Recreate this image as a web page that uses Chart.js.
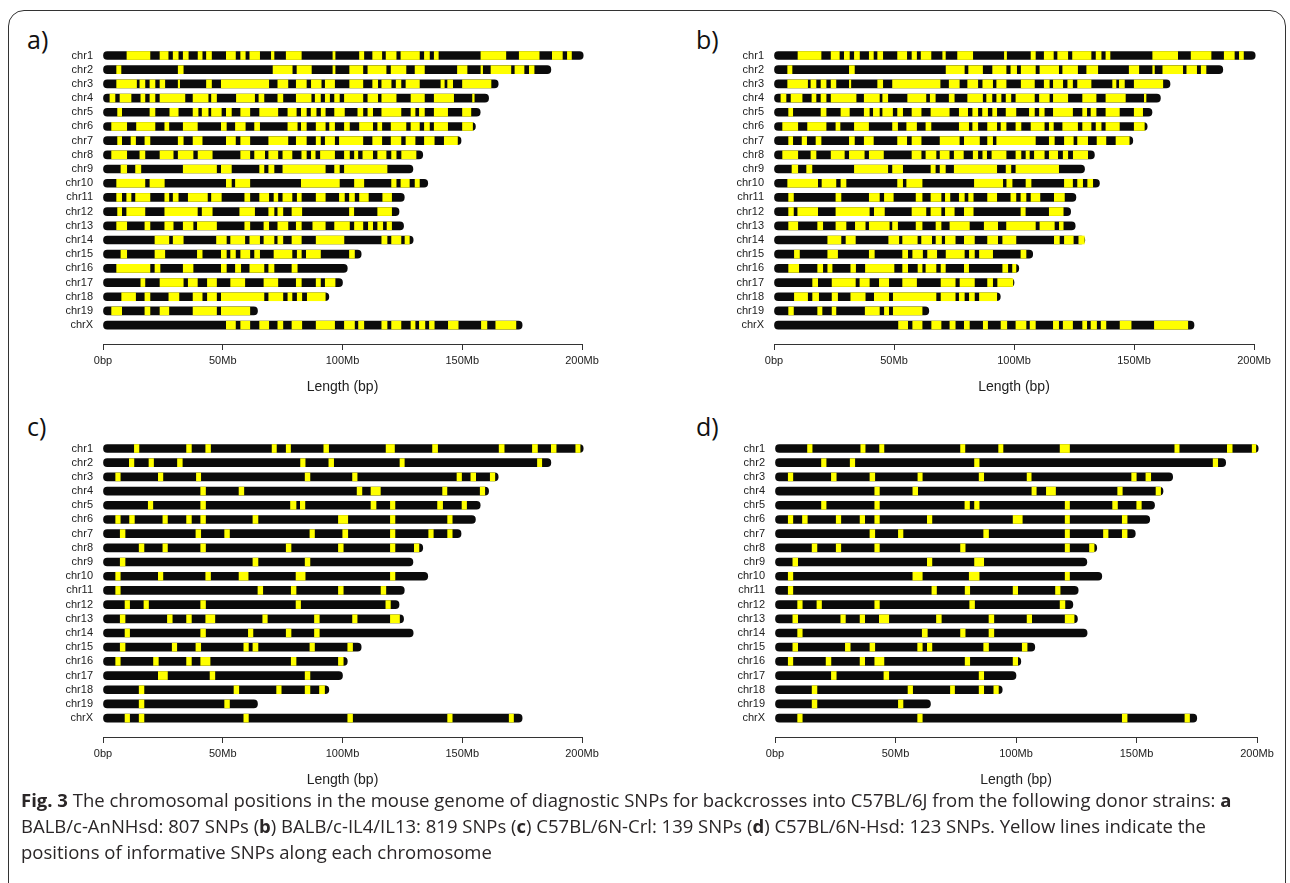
<!DOCTYPE html>
<html lang="en">
<head>
    <meta charset="UTF-8">
    <title>Fig. 3 Diagnostic SNP positions</title>
    <script src="https://cdn.jsdelivr.net/npm/chart.js"></script>
    <style>
        body {
            margin: 0;
            width: 1290px;
            height: 883px;
            overflow: hidden;
            background: #fff;
            position: relative;
            font-family: "Open Sans", sans-serif;
        }
        .frame {
            position: absolute;
            left: 8px;
            top: 10px;
            width: 1276px;
            height: 920px;
            border: 1.5px solid #333;
            border-radius: 16px;
        }
        .panel-label {
            position: absolute;
            font-size: 25px;
            color: #111;
            line-height: 1;
        }
        canvas {
            position: absolute;
        }
        .caption {
            position: absolute;
            left: 21px;
            top: 787px;
            font-size: 18.5px;
            line-height: 26px;
            color: #2a2627;
            white-space: nowrap;
        }
        .caption b {
            font-weight: 700;
        }
    </style>
</head>
<body>
    <div class="frame"></div>

    <div class="panel-label" style="left:27px; top:27px;">a)</div>
    <div class="panel-label" style="left:696px; top:27px;">b)</div>
    <div class="panel-label" style="left:27px; top:414px;">c)</div>
    <div class="panel-label" style="left:696px; top:414px;">d)</div>

    <canvas id="chartA" width="640" height="400" style="left:0px; top:0px;"></canvas>
    <canvas id="chartB" width="640" height="400" style="left:671px; top:0px;"></canvas>
    <canvas id="chartC" width="640" height="400" style="left:0px; top:393px;"></canvas>
    <canvas id="chartD" width="640" height="400" style="left:672px; top:393px;"></canvas>

    <div class="caption">
        <b>Fig. 3</b> The chromosomal positions in the mouse genome of diagnostic SNPs for backcrosses into C57BL/6J from the following donor strains: <b>a</b><br>
        BALB/c-AnNHsd: 807 SNPs (<b>b</b>) BALB/c-IL4/IL13: 819 SNPs (<b>c</b>) C57BL/6N-Crl: 139 SNPs (<b>d</b>) C57BL/6N-Hsd: 123 SNPs. Yellow lines indicate the<br>
        positions of informative SNPs along each chromosome
    </div>

    <script>
        // Chromosomes and their drawn lengths (Mb)
        const chrNames = ['chr1','chr2','chr3','chr4','chr5','chr6','chr7','chr8','chr9','chr10',
                          'chr11','chr12','chr13','chr14','chr15','chr16','chr17','chr18','chr19','chrX'];
        const chrLengths = [200.5, 187, 165, 161, 157.5, 155.5, 149.5, 133.5, 129.4, 135.6,
                            125.8, 123.6, 125.5, 129.5, 107.8, 102, 100, 94.3, 64.5, 175];

        // x axis ticks
        const xTickValues = [0, 50, 100, 150, 200];
        const xTickLabels = ['0bp', '50Mb', '100Mb', '150Mb', '200Mb'];

        // Yellow (informative SNP) regions per chromosome, in Mb
        // a) BALB/c-AnNHsd
        const yellowA = [
            [[10,19.6],[23.8,27.2],[29.3,31.4],[33.5,35.6],[39.7,41.4],[43.2,45.3],[51.5,55.3],[57.5,59.4],[61.3,65.4],[70.3,71.4],[76.5,82.8],[96,96.9],[107.1,108.9],[112.6,116.4],[118.2,122.4],[124.4,132.1],[134.2,136.3],[138.3,140],[157.8,168.2],[173.8,182.1],[187.6,191.8],[193.9,195.6]],
            [[5.7,7.5],[31.4,33.5],[71,79],[81,87],[96,96.9],[103,108.5],[110.6,118.2],[120.3,126.5],[130.3,134.2],[148,152],[157.8,158.5],[162,170.3],[172,175.8],[178,180]],
            [[5.7,14],[15.4,17.5],[19.6,21.7],[23.8,25.8],[31.4,32],[43.2,45.3],[49.4,69.2],[73,77.2],[80.7,84.9],[87,91.1],[92.8,96.7],[103,108.5],[112.6,114.7],[116.4,120.3],[122.4,124.4],[126.5,132.1],[141.1,142.5],[143.9,146],[150.1,162]],
            [[2.9,5],[7.1,11.7],[15.8,17.5],[19.6,21.7],[23.8,34.2],[37.6,43.9],[45.3,47.4],[55.7,63.3],[65.1,67.2],[73,75.1],[80.7,86.9],[88.6,90.8],[92.8,94.6],[96.7,98.7],[100.8,108.5],[110.6,114.7],[116.4,122.4],[128.6,134.2],[138.3,146.4],[154.3,155]],
            [[6.1,7.8],[19.6,21.7],[27.9,31.4],[37.6,39.7],[41.4,43.9],[45.3,49.4],[51.5,53.6],[57.5,61.3],[65.4,73],[77.2,80.7],[82.8,84.9],[86.9,89],[91.1,92.8],[96.7,100.8],[106.4,108.5],[110.6,112.6],[116.4,124.4],[128.6,130.3],[132.1,134.2],[138.3,143.9],[150.1,153.6]],
            [[3.6,9.9],[14,21.7],[25.8,27.5],[33.5,39.4],[49.4,51.5],[55.3,59.4],[63.3,65.4],[77.2,81.1],[82.8,84.9],[89,92.8],[94.6,96.7],[100.8,102.9],[107.1,112.6],[114.7,116.4],[120.3,126.5],[128.6,132.1],[134.2,136.3],[138.3,143.9],[150.1,154.3]],
            [[6.1,7.8],[11.7,13.6],[17.5,19.6],[31.4,33.5],[37.6,41.4],[51.5,55.3],[57.5,61.3],[69.2,77.2],[80.7,84.9],[89,90.8],[92.8,96.7],[98.7,108.5],[112.6,116.4],[120.3,124.4],[126.5,130.3],[134.2,138.3],[142.5,148]],
            [[3.6,9.9],[15.4,17.5],[23.8,29.3],[31.4,37.6],[39.7,45.6],[57.5,61.3],[63.3,67.5],[69.2,73],[75.1,78.9],[83,84.9],[87,88.6],[90.8,96.7],[100.8,102.9],[105,106.4],[108.5,112.6],[114.7,118.2],[120.5,122.4],[124.7,130.7]],
            [[7.5,9.9],[13.6,15.8],[33.5,47.4],[49.4,53.6],[65.4,67.2],[69.2,71.4],[75.1,92.8],[96.7,98.7],[100.8,118.6]],
            [[5.7,17.5],[19.6,25.6],[51.5,53.6],[55.3,61.3],[82.8,98.7],[105,108.9],[120.5,122.4],[124.4,127.9],[130.3,132.1]],
            [[5.7,7.8],[9.9,11.7],[13.6,19.6],[25.8,27.5],[29.3,31.4],[35.6,43.6],[45.3,49.4],[59.2,61.3],[65.4,69.2],[71.4,73],[75.1,78.9],[81.1,82.8],[89,92.8],[98.7,100.8],[102.9,105],[107.1,110.8],[116.8,120.5]],
            [[6.1,7.8],[9.9,17.5],[25.8,39.4],[41.4,45.6],[57.1,63.3],[69.2,71.4],[73,75.1],[78.9,83],[102.9,104.7],[114.7,120.5]],
            [[5.7,9.9],[17.5,19.6],[25.8,29.3],[33.5,37.6],[39.4,47.4],[59.2,61.3],[67.2,69.2],[73,77.2],[80.7,82.8],[87.6,92.8],[96.7,102.9],[105,108.5],[110.8,112.6],[114.7,116.8],[118.6,120.5]],
            [[21.7,27.5],[29.3,33.5],[47.4,51.5],[53.3,59.2],[61.3,65.4],[67.2,71.4],[73,75.1],[78.9,82.8],[89,100.6],[116.4,118.6],[120.5,124.4],[126.1,127.9]],
            [[7.5,9.9],[21.7,25.8],[39.4,41.4],[49.4,51.5],[53.3,55.3],[57.5,61.3],[63.3,65.4],[71.4,78.9],[81.1,82.8],[84.9,90.8],[102.9,105]],
            [[5.7,19.6],[21.7,23.8],[33.5,37.6],[49.4,51.5],[55.3,57.5],[61.3,67.2],[69.2,71.4],[78.9,81.1]],
            [[15.8,17.5],[23.8,33.5],[35.6,39.4],[43.6,47.4],[53.3,59.2],[67.2,73],[80.7,82.8],[89,90.8],[92.8,96.9]],
            [[7.8,13.6],[17.5,19.6],[27.5,31.7],[37.6,41.4],[43.6,47.4],[49.4,67.2],[69.2,75.1],[77.2,78.9],[81.1,83],[85.3,92.8]],
            [[3.6,7.8],[17.5,19.6],[23.8,27.5],[37.6,47.4],[49.4,61.3]],
            [[51.5,55.3],[57.5,61.3],[65.4,69.2],[73,75.1],[78.9,83],[89,96.7],[100.8,105],[106.7,108.9],[116.4,118.6],[120.5,124.4],[128.6,130.3],[132.1,134.4],[136.3,138.3],[144.2,148.3],[158,160.3],[164,172.4]]
        ];

        // b) BALB/c-IL4/IL13
        const yellowB = [
            yellowA[0],
            [[5.7,7.5],[31.4,33.5],[71.7,79.3],[81.1,86.9],[91.1,96.7],[98.7,101.1],[103,108.9],[110.8,118.6],[120.3,126.5],[130.3,134.9],[148,152],[157.8,158.5],[162,170.3],[172,176.1],[178,180]],
            yellowA[2],
            yellowA[3],
            yellowA[4],
            yellowA[5],
            [[6.1,7.8],[11.7,13.6],[17.5,19.6],[31.4,33.5],[37.6,41.4],[51.5,55.3],[57.5,61.3],[69.2,77.2],[79.3,85.6],[89,91.1],[92.8,108.9],[114.7,116.8],[121,124.7],[126.5,130.7],[134.6,138.3],[142.5,148]],
            yellowA[7],
            yellowA[8],
            [[5.7,18.2],[20,25.8],[27.9,30],[51.5,53.6],[55.3,61.7],[83.5,95.3],[97,99.2],[105,107.1],[121,124.4],[126.5,128.6],[130.7,132.8]],
            [[6.1,8.1],[25.8,27.9],[39.7,43.9],[46,49.7],[59.2,61.7],[65.4,69.6],[71.4,73.3],[77.2,79.3],[81.1,83],[89,92.8],[98.7,100.8],[102.9,105],[107.1,110.8],[116.8,121]],
            [[6.1,8.1],[9.9,18.2],[25.8,39.7],[41.8,46],[57.5,63.3],[65.4,69.6],[71.4,75.1],[79.3,83],[102.9,104.7],[114.7,120.5]],
            [[6.1,9.9],[18.2,20.3],[25.8,30],[33.9,38],[39.7,48],[49.4,51.5],[59.2,61.7],[67.5,69.6],[73.3,81.4],[87.6,93.2],[96.9,108.9],[110.8,116.8],[118.9,120.5]],
            [[22.4,27.9],[30,33.9],[47.8,52],[53.6,59.7],[61.5,65.7],[67.5,69.8],[71.4,75.5],[79.3,83.5],[89,93.2],[95.3,100.8],[116.8,118.9],[121,124.7],[127,129.3]],
            [[8.5,10.6],[22.4,26.5],[39.7,41.8],[53.6,55.7],[57.8,61.9],[64,67.8],[71.7,79.3],[81.4,83.5],[85.6,91.1],[102.9,105]],
            [[6.1,10.3],[18.2,20.3],[22.4,24.2],[32,34],[38.1,50],[53.6,55.7],[60,61.7],[63.3,67.5],[69.6,71.4],[79.3,81.1],[95.3,97.4],[99.4,100.8]],
            [[16.1,18.2],[24.2,33.9],[35.8,39.7],[43.9,47.8],[53.6,59.4],[69.6,75.5],[77.5,83.5],[89,91.1],[93.2,99.5]],
            [[8.5,14],[16.1,18.6],[24.2,26.5],[32,38],[41.8,47.8],[49.7,67.5],[69.6,75.5],[77.2,79.3],[81.4,83.5],[85.6,92.8]],
            [[6.1,8.1],[18.2,20],[24.2,25.8],[38,43.9],[46,47.8],[49.7,61.7]],
            [[51.9,55.7],[57.8,61.7],[65.7,69.6],[73.3,75.5],[79.3,81.4],[87.2,89],[94.6,97],[100.8,105],[106.7,108.9],[116.4,118.6],[120.5,124.4],[128.6,130.3],[132.1,134.4],[136.3,138.3],[144.2,148.8],[158.5,172.4]]
        ];

        // c) C57BL/6N-Crl
        const yellowC = [
            [[13.1,15],[34.9,36.9],[42.9,44.9],[70.6,72.4],[76.5,78.3],[92.2,94.2],[118.2,121.7],[137.6,139.7],[165.4,167.5],[179.3,181.4],[187.2,189.2],[197.4,199.2]],
            [[11,12.9],[19.2,21.1],[31.1,33.1],[82.5,84.4],[94.3,96.3],[124,125.8],[181.4,183.2]],
            [[5.3,7.2],[23.1,25],[39,40.8],[84.4,86.4],[104.2,106.1],[147.8,149.7],[153.6,155.6],[161.7,163.6]],
            [[40.8,42.8],[56.8,58.8],[106.1,108.1],[111.9,115.8],[141.8,143.6],[157.5,159.4]],
            [[18.9,20.8],[40.8,42.8],[78.3,80.6],[82.4,84.3],[111.9,114],[120,121.9],[139.7,141.8],[149.9,151.8]],
            [[5.3,7.2],[11.1,13.1],[25,26.9],[34.9,36.9],[40.8,42.8],[62.6,64.7],[98.3,102.2],[120,121.9],[143.9,145.8]],
            [[7.2,9.2],[38.8,40.8],[50.8,52.8],[86.4,88.3],[100.1,102.2],[120,121.9],[136,137.9],[143.9,145.8]],
            [[15.1,17.1],[25,26.9],[40.8,42.8],[76.5,78.5],[98.3,100.3],[120,121.9],[130,131.9]],
            [[7.2,9.2],[62.6,64.7],[84.4,86.4]],
            [[5.3,7.2],[23.1,25],[42.9,44.9],[56.8,60.6],[80.6,84.4],[120,121.9]],
            [[5.3,7.2],[64.7,66.7],[78.6,80.6],[98.3,100.3],[116.1,118.1]],
            [[9.2,11.1],[17.1,19],[40.8,42.8],[80.6,82.5],[118.1,120]],
            [[7.2,9.2],[26.9,28.9],[34.9,36.9],[42.9,46.7],[66.7,68.6],[88.3,90.3],[104.2,106.1],[120,123.8]],
            [[9.2,11.1],[40.8,42.8],[60.7,62.6],[76.5,78.5],[88.3,90.3]],
            [[7.2,9.2],[28.9,30.8],[38.8,40.8],[58.8,60.7],[62.6,64.7],[86.4,88.3],[102.2,104.2]],
            [[5.3,7.2],[21.1,23.1],[34.9,36.9],[40.8,44.7],[78.6,80.6],[98.3,100.3]],
            [[23.1,26.9],[44.7,46.7],[84.4,86.4]],
            [[15.1,17.1],[54.7,56.7],[72.5,74.4],[84.4,86.4],[90.4,92.5]],
            [[15.1,17.1],[50.8,52.8]],
            [[9.2,11.1],[15.1,17.1],[58.8,60.7],[102.2,104.2],[143.9,145.8],[169.6,171.4]]
        ];

        // d) C57BL/6N-Hsd
        const yellowD = [
            [[13.5,15.4],[35.6,37.4],[43.4,45.2],[77,78.8],[92.8,94.6],[118.3,122.2],[165.9,167.7],[187.7,189.7],[198,199.5]],
            [[19.3,21.2],[31.2,33.1],[82.8,84.7],[181.8,183.7]],
            [[5.5,7.4],[23.4,25.4],[39.4,41.4],[59.3,61.1],[84.7,86.6],[104.6,106.3],[148,149.9],[153.9,155.9]],
            [[41.4,43.3],[57.2,59.2],[106.6,108.4],[112.6,116.4],[142.2,144.1],[158.1,160]],
            [[19.3,21.2],[41.4,43.3],[78.8,80.7],[82.8,84.7],[120.4,122.2],[140.1,142.1],[150.1,152]],
            [[5.5,7.4],[11.4,13.4],[25.4,27.3],[35.3,37.2],[41.4,43.3],[63.2,65.1],[98.8,102.6],[120.4,122.2],[144.1,146.1]],
            [[39.4,41.4],[51.2,53.1],[86.6,88.6],[120.4,122.2],[136.3,138.2],[144.1,146.1]],
            [[15.4,17.4],[25.4,27.3],[41.4,43.3],[77,78.9],[120.4,122.2],[130.5,132.4]],
            [[7.4,9.4],[63.2,65.1],[82.8,86.6]],
            [[5.5,7.4],[57.2,61.1],[80.6,84.7],[120.4,122.2]],
            [[5.5,7.4],[65.1,67],[78.9,80.8],[98.8,100.7],[116.4,118.3]],
            [[9.4,11.3],[17.4,19.3],[41.4,43.3],[80.8,82.8],[118.3,120.3]],
            [[7.4,9.4],[27.3,29.2],[35.3,37.2],[43.3,47.2],[67,69],[88.8,90.8],[104.6,106.5],[120.4,124.1]],
            [[9.4,11.3],[61.1,63.2],[77,78.9],[88.8,90.8]],
            [[7.4,9.4],[29.2,31.2],[39.4,41.4],[59.2,61.1],[63.2,65.1],[86.6,88.6],[102.6,104.6]],
            [[5.5,7.4],[21.2,23.2],[35.3,37.2],[41.4,45.2],[78.9,80.8],[98.8,100.7]],
            [[23.4,25.4],[45.2,47.2],[84.7,86.6]],
            [[15.4,17.4],[55.2,57.1],[72.8,74.5],[84.7,86.6],[90.8,92.7]],
            [[15.4,17.4],[51.2,53.1]],
            [[9.4,11.3],[59.2,61.1],[144.1,146.1],[170.1,172]]
        ];

        const axisFont = { family: '"Liberation Sans", Arial, sans-serif', size: 11 };

        function makePanel(canvasId, yellow, plotWidth) {
            const black = chrNames.map((name, i) => ({ x: [0, chrLengths[i]], y: i }));
            const marks = [];
            yellow.forEach((list, i) => {
                list.forEach(seg => marks.push({ x: seg, y: i }));
            });

            return new Chart(document.getElementById(canvasId), {
                type: 'bar',
                data: {
                    datasets: [
                        {
                            label: 'SNP',
                            data: marks,
                            backgroundColor: '#ffff00',
                            borderWidth: 0,
                            order: 0
                        },
                        {
                            label: 'chromosome',
                            data: black,
                            backgroundColor: '#0b0b0b',
                            borderWidth: 0,
                            borderRadius: 4,
                            borderSkipped: false,
                            order: 1
                        }
                    ]
                },
                options: {
                    indexAxis: 'y',
                    responsive: false,
                    animation: false,
                    events: [],
                    datasets: {
                        bar: { grouped: false, barThickness: 8, clip: false }
                    },
                    layout: {
                        padding: { left: 0, top: 47, right: 640 - 103 - plotWidth, bottom: 2 }
                    },
                    plugins: {
                        legend: { display: false },
                        tooltip: { enabled: false }
                    },
                    scales: {
                        x: {
                            type: 'linear',
                            min: 0,
                            max: 200,
                            afterBuildTicks: scale => {
                                scale.ticks = xTickValues.map(v => ({ value: v }));
                            },
                            afterFit: scale => { scale.height = 54; },
                            ticks: {
                                callback: (v, i) => xTickLabels[i],
                                font: axisFont,
                                color: '#222',
                                padding: 4,
                                maxRotation: 0
                            },
                            grid: {
                                drawOnChartArea: false,
                                drawTicks: true,
                                tickLength: 6,
                                color: '#333'
                            },
                            border: { display: true, color: '#333', width: 1 },
                            title: {
                                display: true,
                                text: 'Length (bp)',
                                font: { family: '"Liberation Sans", Arial, sans-serif', size: 14 },
                                color: '#222',
                                padding: { top: 0, bottom: 2 }
                            }
                        },
                        y: {
                            type: 'linear',
                            reverse: true,
                            offset: false,
                            min: -0.6,
                            max: 20.33,
                            afterBuildTicks: scale => {
                                scale.ticks = chrNames.map((n, i) => ({ value: i }));
                            },
                            afterFit: scale => { scale.width = 103; },
                            ticks: {
                                callback: (v) => chrNames[v],
                                autoSkip: false,
                                font: axisFont,
                                color: '#222',
                                padding: 10
                            },
                            grid: { display: false, drawTicks: false, offset: false },
                            border: { display: false }
                        }
                    }
                }
            });
        }

        makePanel('chartA', yellowA, 479);
        makePanel('chartB', yellowB, 480);
        makePanel('chartC', yellowC, 479);
        makePanel('chartD', yellowD, 482);
    </script>
</body>
</html>
